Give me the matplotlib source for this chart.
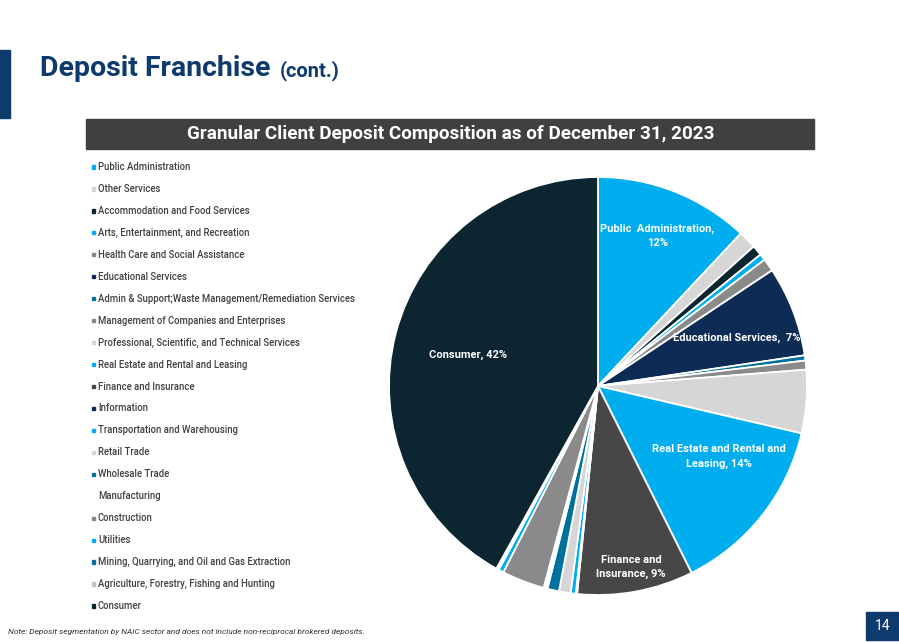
import matplotlib.pyplot as plt
import numpy as np
from matplotlib.patches import Rectangle

plt.rcParams['font.family'] = ['Roboto', 'DejaVu Sans']

# Sector data, clockwise from 12 o'clock (same order as the legend)
sectors = [
    'Public Administration', 'Other Services', 'Accommodation and Food Services',
    'Arts, Entertainment, and Recreation', 'Health Care and Social Assistance',
    'Educational Services', 'Admin & Support;Waste Management/Remediation Services',
    'Management of Companies and Enterprises', 'Professional, Scientific, and Technical Services',
    'Real Estate and Rental and Leasing', 'Finance and Insurance', 'Information',
    'Transportation and Warehousing', 'Retail Trade', 'Wholesale Trade', 'Manufacturing',
    'Construction', 'Utilities', 'Mining, Quarrying, and Oil and Gas Extraction',
    'Agriculture, Forestry, Fishing and Hunting', 'Consumer',
]
shares = [12.0, 1.4, 0.8, 0.5, 1.0, 7.0, 0.4, 0.7, 4.9, 14.0, 9.0, 0.1,
          0.4, 0.9, 0.9, 0.3, 3.3, 0.4, 0.1, 0.1, 42.0]

LBLUE = '#00AEEF'
LGREY = '#D6D6D6'
DARK = '#0B2631'
GREY = '#8A8A8A'
NAVY = '#0C2B55'
TEAL = '#00709C'
DGREY = '#474747'
colors = [LBLUE, LGREY, DARK, LBLUE, GREY, NAVY, TEAL, GREY, LGREY, LBLUE, DGREY, NAVY,
          LBLUE, LGREY, TEAL, 'white', GREY, LBLUE, TEAL, '#C4C4C4', DARK]

# labelled slices: index -> (text, label radius, angle nudge in degrees)
slice_labels = {
    0: ('Public  Administration,\n12%', 0.77, 0),
    5: ('Educational Services,  7%', 0.70, -2),
    9: ('Real Estate and Rental and\nLeasing, 14%', 0.67, 8),
    10: ('Finance and\nInsurance, 9%', 0.88, 0),
    20: ('Consumer, 42%', 0.64, 1),
}

W, H = 899, 642
fig = plt.figure(figsize=(W / 100, H / 100), dpi=100)
fig.patch.set_facecolor('white')

# header
fig.patches.append(Rectangle((0, 1 - 118 / H), 10 / W, 68 / H, transform=fig.transFigure,
                             color='#0E3B6E', zorder=0))
fig.text(40 / W, 1 - 69 / H, 'Deposit Franchise', fontsize=20.5, fontweight='bold',
         color='#0E3B6E', va='center', ha='left')
fig.text(280 / W, 1 - 71 / H, '(cont.)', fontsize=14.5, fontweight='bold',
         color='#0E3B6E', va='center', ha='left')

# banner
fig.patches.append(Rectangle((86 / W, 1 - 149 / H), 728 / W, 30 / H, transform=fig.transFigure,
                             color='#404040', zorder=0))
fig.text(451 / W, 1 - 134 / H, 'Granular Client Deposit Composition as of December 31, 2023',
         fontsize=13.6, fontweight='bold', color='white', ha='center', va='center')

# legend list
y0, step = 167, 21.95
for i, (name, c) in enumerate(zip(sectors, colors)):
    y = 1 - (y0 + i * step) / H
    if c != 'white':
        fig.patches.append(Rectangle((91.5 / W, y - 1.6 / H), 3.2 / W, 3.2 / H,
                                     transform=fig.transFigure, color=c))
    fig.text(98 / W, y, name, fontsize=6.85, color='#404040', va='center', ha='left',
             fontweight='medium')

# pie
r = 209
cx, cy = 598, 386
ax = fig.add_axes([(cx - r) / W, (H - cy - r) / H, 2 * r / W, 2 * r / H])
wedges, _ = ax.pie(shares, colors=colors, startangle=90, counterclock=False,
                   wedgeprops=dict(edgecolor='white', linewidth=1.3))
for idx, (txt, lr, nudge) in slice_labels.items():
    w = wedges[idx]
    ang = np.deg2rad((w.theta1 + w.theta2) / 2 + nudge)
    ax.text(lr * np.cos(ang), lr * np.sin(ang), txt, color='white', fontsize=8,
            fontweight='bold', ha='center', va='center', linespacing=1.5)
ax.set_xlim(-1.0, 1.0)
ax.set_ylim(-1.0, 1.0)
ax.set_aspect('equal')
ax.axis('off')

# footer
fig.text(8 / W, 1 - 632 / H,
         'Note: Deposit segmentation by NAIC sector and does not include non-reciprocal brokered deposits.',
         fontsize=6.05, style='italic', color='#333333', va='center', ha='left')
fig.patches.append(Rectangle((866 / W, 1 - 640 / H), 33 / W, 28 / H, transform=fig.transFigure,
                             color='#0E3B6E'))
fig.text(882.5 / W, 1 - 626 / H, '14', fontsize=10, color='white', ha='center', va='center')

fig.savefig('out.png', dpi=100)
